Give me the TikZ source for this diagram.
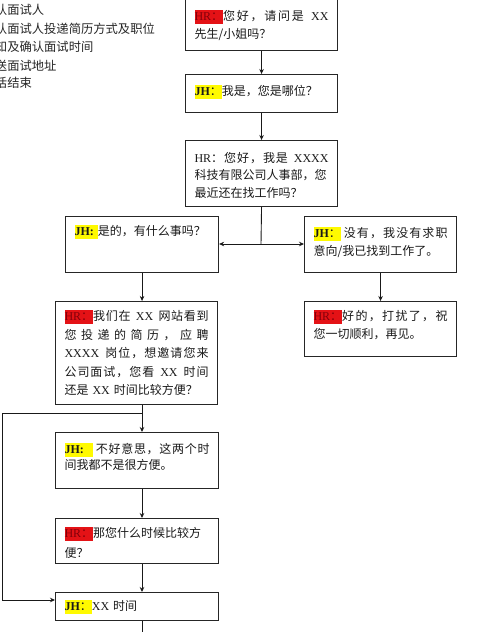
\documentclass[tikz,border=0pt]{standalone}
\usepackage{fontspec}
\setmainfont{Noto Sans CJK SC}
\newfontfamily\enf{Liberation Serif}
\usetikzlibrary{arrows.meta}
\definecolor{hlred}{RGB}{228,18,22}
\definecolor{hltext}{RGB}{130,0,10}
\definecolor{hlyel}{RGB}{255,250,0}
\newcommand\en[1]{{\enf #1}}
\newcommand\enb[1]{{\enf\bfseries #1}}
\newcommand\strutx{\rule{0pt}{10.5pt}}
\newcommand\hlr[1]{{\setlength\fboxsep{0pt}\colorbox{hlred}{\rule[-3pt]{0pt}{14pt}\color{hltext}#1}}}
\newcommand\hly[1]{{\setlength\fboxsep{0pt}\colorbox{hlyel}{\rule[-3pt]{0pt}{14pt}#1}}}
\newcommand\gp{\hskip 4pt\relax}
% spread the items of #1 evenly
\ExplSyntaxOn
\bool_new:N \l_spr_first_bool
\cs_new_protected:Npn \spr #1
  {
    \bool_set_true:N \l_spr_first_bool
    \tl_map_inline:nn {#1}
      {
        \bool_if:NF \l_spr_first_bool { \hfil }
        \bool_set_false:N \l_spr_first_bool
        ##1
      }
  }
\ExplSyntaxOff
\newcommand\tline[1]{\hbox to\hsize{\strutx #1\hfil}}
\newcommand\jline[1]{\hbox to\hsize{\strutx #1}}
% #1 width, #2 height, #3 top skip, #4 baselineskip, #5 lines
\newcommand\bxt[5]{\hbox{\kern9pt\vbox to #2pt{\hsize=\dimexpr#1pt-18pt\relax\baselineskip=#4pt\relax\lineskiplimit=-100pt\vskip#3pt\relax #5\vss}\kern9pt}}
\begin{document}
\begin{tikzpicture}[x=1pt,y=-1pt,
  box/.style={draw=black!85, line width=1.1pt, inner sep=0pt, anchor=north west,
    font=\fontsize{12}{18}\selectfont, text=black!90},
  legend/.style={anchor=base west, inner sep=0pt, font=\fontsize{12.3}{14}\selectfont, text=black!85},
  arr/.style={-{Stealth[length=5pt,width=4.5pt]}, line width=0.9pt, draw=black!90},
  conn/.style={line width=0.9pt, draw=black!90}]
\useasboundingbox (0,0) rectangle (500,632);

% legend (cut at the left edge)
\node[legend] (l1) at (-17.5,14.5) {确认面试人};
\node[legend] (l2) at (-17.5,33.5) {确认面试人投递简历方式及职位};
\node[legend] (l3) at (-17.5,51.5) {告知及确认面试时间};
\node[legend] (l4) at (-17.5,70.5) {发送面试地址};
\node[legend] (l5) at (-17.5,87.5) {通话结束};

% boxes
\node[box] (b1) at (185,-2) {\bxt{152}{52}{11}{18}{%
  \jline{\hlr{\en{HR}：}\spr{您好，请问是{\gp}{\en{XX}}}}%
  \tline{先生/小姐吗？}}};
\node[box] (b2) at (185,74) {\bxt{152}{38}{10}{18}{%
  \tline{\hly{\enb{JH}：}我是，您是哪位？}}};
\node[box] (b3) at (185,140) {\bxt{152}{66}{11}{17.5}{%
  \jline{\spr{{\en{HR}：}您好，我是{\gp}{\en{XXXX}}}}%
  \tline{科技有限公司人事部，您}%
  \tline{最近还在找工作吗？}}};
\node[box] (b4) at (65,216) {\bxt{153}{56}{8}{18}{%
  \tline{\hly{\enb{JH:}\hspace{4pt}}是的，有什么事吗？}}};
\node[box] (b5) at (304,216) {\bxt{152}{56}{10}{18}{%
  \jline{\hly{\enb{JH}：}\hskip3pt\spr{没有，我没有求职}}%
  \tline{意向/我已找到工作了。}}};
\node[box] (b6) at (55,301) {\bxt{162}{103}{8}{18.5}{%
  \jline{\hlr{\en{HR}：}\spr{我们在{\gp}{\en{XX}}{\gp}网站看到}}%
  \jline{\spr{您投递的简历，应聘}}%
  \jline{\spr{{\en{XXXX}}{\gp}岗位，想邀请您来}}%
  \jline{\spr{公司面试，您看{\gp}{\en{XX}}{\gp}时间}}%
  \tline{还是\gp\en{XX}\gp 时间比较方便？}}};
\node[box] (b7) at (304,301) {\bxt{152}{55}{8}{18}{%
  \jline{\hlr{\en{HR}：}\spr{好的，打扰了，祝}}%
  \tline{您一切顺利，再见。}}};
\node[box] (b8) at (55,432) {\bxt{163}{56}{10}{16}{%
  \jline{\hly{\enb{JH:}\hspace{9pt}}\hskip3pt\spr{不好意思，这两个时}}%
  \tline{间我都不是很方便。}}};
\node[box] (b9) at (55,518) {\bxt{163}{45}{8}{20}{%
  \tline{\hlr{\en{HR}：}那您什么时候比较方}%
  \tline{便？}}};
\node[box] (b10) at (55,592) {\bxt{163}{28}{7}{18}{%
  \tline{\hly{\enb{JH}：}\en{XX}\gp 时间}}};

% connectors
\coordinate (j) at (261,244);
\coordinate (lp) at (142,413);
\coordinate (lc1) at (2,413);
\coordinate (lc2) at (2,600);
\coordinate (endc) at (142,634);
\draw[arr] (b1.south) -- (b2.north);
\draw[arr] (b2.south) -- (b3.north);
\draw[conn] (b3.south) -- (j);
\draw[arr] (j) -- (b4.east |- j);
\draw[arr] (j) -- (b5.west |- j);
\draw[arr] (b4.south) -- (b4.south |- b6.north);
\draw[arr] (b5.south) -- (b5.south |- b7.north);
\draw[arr] (lp |- b6.south) -- (lp |- b8.north);
\draw[arr] (lp) -- (lc1) -- (lc2) -- (b10.west |- lc2);
\draw[arr] (lp |- b8.south) -- (lp |- b9.north);
\draw[arr] (lp |- b9.south) -- (lp |- b10.north);
\draw[conn] (lp |- b10.south) -- (endc);
\end{tikzpicture}
\end{document}
